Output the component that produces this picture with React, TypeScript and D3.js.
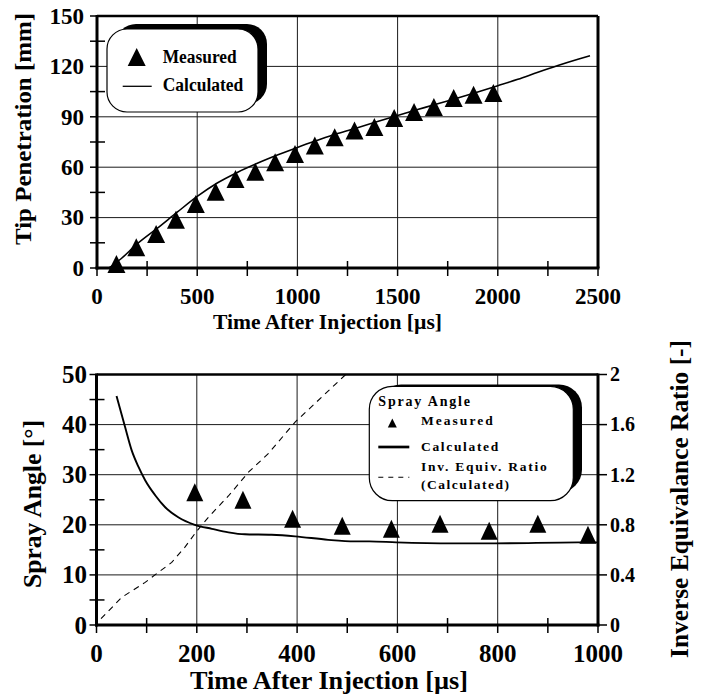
import React from 'react';
import * as d3 from 'd3';

const W = 703;
const H = 698;
const FONT = '"Liberation Serif", "Times New Roman", Times, serif';

// Upper panel: spray tip penetration vs time
const penTimeMeasured = [97, 196, 295, 394, 493, 592, 691, 790, 889, 988, 1087, 1186, 1285, 1384, 1483, 1582, 1681, 1780, 1879, 1978];
const penMeasured = [0.6, 10.5, 18.5, 27.0, 36.3, 43.6, 51.2, 55.5, 61.1, 66.1, 71.1, 76.1, 80.1, 82.1, 87.5, 91.1, 94.0, 99.4, 101.4, 102.4];
const penTimeCalc = [60, 120, 200, 300, 400, 500, 600, 700, 800, 900, 1000, 1100, 1200, 1300, 1400, 1500, 1600, 1700, 1800, 1900, 2000, 2100, 2200, 2300, 2400, 2460];
const penCalc = [0, 5.5, 14.3, 23.6, 33.2, 42.6, 50.6, 56.9, 62.3, 67.2, 71.8, 76, 80, 83.5, 87.2, 90.8, 94.3, 97.8, 101.2, 104.8, 108.5, 112.3, 116.5, 120.5, 124.2, 126.3];
const penXTicks = [0, 500, 1000, 1500, 2000, 2500];
const penXMinor = [250, 750, 1250, 1750, 2250];
const penYTicks = [0, 30, 60, 90, 120, 150];
const penYMinor = [15, 45, 75, 105, 135];

// Lower panel: spray angle and inverse equivalence ratio vs time
const angTimeMeasured = [196, 292, 391, 490, 588, 685, 783, 880, 980];
const angMeasured = [25.9, 24.4, 20.6, 19.2, 18.6, 19.6, 18.2, 19.6, 17.4];
const angTimeCalc = [40, 57, 70, 84, 97, 117, 137, 163, 196, 230, 263, 296, 349, 396, 462, 515, 544, 598, 710, 794, 960, 998];
const angCalc = [45.7, 39.5, 34.9, 31.5, 28.9, 25.9, 23.5, 21.5, 20, 19.2, 18.5, 18.1, 18, 17.7, 17, 16.7, 16.7, 16.5, 16.3, 16.3, 16.5, 16.5];
const ierTime = [9, 50, 97, 110, 150, 176, 200, 223, 263, 303, 343, 396, 436, 497];
const ierCalc = [0.05, 0.22, 0.34, 0.38, 0.5, 0.62, 0.75, 0.86, 1.03, 1.22, 1.37, 1.62, 1.77, 2.0];
const angXTicks = [0, 200, 400, 600, 800, 1000];
const angXMinor = [100, 300, 500, 700, 900];
const angYTicks = [0, 10, 20, 30, 40, 50];
const angYMinor = [5, 15, 25, 35, 45];
const ierTicks = [0, 0.4, 0.8, 1.2, 1.6, 2];

// triangle marker with its centroid on the data point
const triangle = (w: number, h: number) =>
  `M0,${(-2 * h) / 3}L${w / 2},${h / 3}L${-w / 2},${h / 3}Z`;

type Pt = [number, number];
const zip = (a: number[], b: number[]): Pt[] => a.map((v, i) => [v, b[i]]);

export default function App() {
  // scales
  const px = d3.scaleLinear().domain([0, 2500]).range([97, 598]);
  const py = d3.scaleLinear().domain([0, 150]).range([268, 16]);
  const ax = d3.scaleLinear().domain([0, 1000]).range([96.5, 598]);
  const ay = d3.scaleLinear().domain([0, 50]).range([625, 374.5]);
  const ry = d3.scaleLinear().domain([0, 2]).range([625, 374.5]);

  const penLine = d3.line<Pt>().x((d) => px(d[0])).y((d) => py(d[1])).curve(d3.curveMonotoneX);
  const angLine = d3.line<Pt>().x((d) => ax(d[0])).y((d) => ay(d[1])).curve(d3.curveMonotoneX);
  const ierLine = d3.line<Pt>().x((d) => ax(d[0])).y((d) => ry(d[1]));

  const gridStroke = '#1a1a1a';
  const marker = triangle(18, 18);

  return (
    <svg
      width={W}
      height={H}
      viewBox={`0 0 ${W} ${H}`}
      style={{ position: 'absolute', left: 0, top: 0, background: '#fff' }}
      fontFamily={FONT}
      fontWeight="bold"
    >
      <rect x={0} y={0} width={W} height={H} fill="#fff" />

      {/* ---------- Upper panel ---------- */}
      <g>
        {penYTicks.slice(1, -1).map((v) => (
          <line key={'pgy' + v} x1={px(0)} x2={px(2500)} y1={py(v)} y2={py(v)} stroke={gridStroke} strokeWidth={1} />
        ))}
        {penXTicks.slice(1, -1).map((v) => (
          <line key={'pgx' + v} x1={px(v)} x2={px(v)} y1={py(0)} y2={py(150)} stroke={gridStroke} strokeWidth={1} />
        ))}
        <path d={penLine(zip(penTimeCalc, penCalc)) || ''} fill="none" stroke="#000" strokeWidth={1.6} />

        {/* frame */}
        <line x1={px(0)} x2={px(2500)} y1={py(150)} y2={py(150)} stroke="#000" strokeWidth={2.5} />
        <line x1={px(2500)} x2={px(2500)} y1={py(150)} y2={py(0)} stroke="#000" strokeWidth={3} />
        <line x1={px(0)} x2={px(0)} y1={py(150) - 1} y2={py(0) + 1.5} stroke="#000" strokeWidth={3} />
        <line x1={px(0) - 1.5} x2={px(2500) + 1.5} y1={py(0)} y2={py(0)} stroke="#000" strokeWidth={3} />

        {/* ticks */}
        {penYTicks.map((v) => (
          <line key={'pty' + v} x1={px(0) - 7} x2={px(0)} y1={py(v)} y2={py(v)} stroke="#000" strokeWidth={1.5} />
        ))}
        {penYMinor.map((v) => (
          <line key={'ptym' + v} x1={px(0) - 7} x2={px(0) + 8} y1={py(v)} y2={py(v)} stroke="#000" strokeWidth={1.5} />
        ))}
        {penXTicks.map((v) => (
          <line key={'ptx' + v} x1={px(v)} x2={px(v)} y1={py(0)} y2={py(0) + 8} stroke="#000" strokeWidth={1.5} />
        ))}
        {penXMinor.map((v) => (
          <line key={'ptxm' + v} x1={px(v)} x2={px(v)} y1={py(0) - 7} y2={py(0) + 8} stroke="#000" strokeWidth={1.5} />
        ))}

        {/* tick labels */}
        {penYTicks.map((v) => (
          <text key={'ply' + v} x={84} y={py(v)} dy="0.34em" textAnchor="end" fontSize={23}>
            {v}
          </text>
        ))}
        {penXTicks.map((v) => (
          <text key={'plx' + v} x={px(v)} y={304} textAnchor="middle" fontSize={23}>
            {v}
          </text>
        ))}

        {/* titles */}
        <text x={327.5} y={328.5} textAnchor="middle" fontSize={21.5} textLength={229} lengthAdjust="spacingAndGlyphs">
          Time After Injection [µs]
        </text>
        <text transform="translate(31,129) rotate(-90)" textAnchor="middle" fontSize={24} textLength={232} lengthAdjust="spacingAndGlyphs">
          Tip Penetration [mm]
        </text>

        {/* measured points */}
        {zip(penTimeMeasured, penMeasured).map((d, i) => (
          <path key={'pm' + i} d={marker} transform={`translate(${px(d[0])},${py(d[1])})`} fill="#000" />
        ))}

        {/* legend */}
        <rect x={116} y={24} width={151} height={80} rx={20} ry={20} fill="#000" />
        <rect x={107} y={29} width={151} height={83} rx={20} ry={20} fill="#fff" stroke="#000" strokeWidth={1.2} />
        <path d={marker} transform="translate(136.7,60)" fill="#000" />
        <text x={162.7} y={63} fontSize={18} textLength={74} lengthAdjust="spacingAndGlyphs">
          Measured
        </text>
        <line x1={122.7} x2={151.7} y1={86.3} y2={86.3} stroke="#000" strokeWidth={1.3} />
        <text x={162.7} y={90.7} fontSize={18} textLength={80.6} lengthAdjust="spacingAndGlyphs">
          Calculated
        </text>
      </g>

      {/* ---------- Lower panel ---------- */}
      <g>
        {angYTicks.slice(1, -1).map((v) => (
          <line key={'agy' + v} x1={ax(0)} x2={ax(1000)} y1={ay(v)} y2={ay(v)} stroke={gridStroke} strokeWidth={1} />
        ))}
        {angXTicks.slice(1, -1).map((v) => (
          <line key={'agx' + v} x1={ax(v)} x2={ax(v)} y1={ay(0)} y2={ay(50)} stroke={gridStroke} strokeWidth={1} />
        ))}
        <path d={ierLine(zip(ierTime, ierCalc)) || ''} fill="none" stroke="#000" strokeWidth={1.1} strokeDasharray="6,5" />
        <path d={angLine(zip(angTimeCalc, angCalc)) || ''} fill="none" stroke="#000" strokeWidth={1.9} />

        {/* frame */}
        <line x1={ax(0)} x2={ax(1000)} y1={ay(50)} y2={ay(50)} stroke="#000" strokeWidth={2.5} />
        <line x1={ax(1000)} x2={ax(1000)} y1={ay(50) - 1} y2={ay(0) + 1.5} stroke="#000" strokeWidth={3} />
        <line x1={ax(0)} x2={ax(0)} y1={ay(50) - 1} y2={ay(0) + 1.5} stroke="#000" strokeWidth={3} />
        <line x1={ax(0) - 1.5} x2={ax(1000) + 1.5} y1={ay(0)} y2={ay(0)} stroke="#000" strokeWidth={3} />

        {/* ticks */}
        {angYTicks.map((v) => (
          <line key={'aty' + v} x1={ax(0) - 7} x2={ax(0)} y1={ay(v)} y2={ay(v)} stroke="#000" strokeWidth={1.5} />
        ))}
        {angYMinor.map((v) => (
          <line key={'atym' + v} x1={ax(0) - 7} x2={ax(0) + 8} y1={ay(v)} y2={ay(v)} stroke="#000" strokeWidth={1.5} />
        ))}
        {angXTicks.map((v) => (
          <line key={'atx' + v} x1={ax(v)} x2={ax(v)} y1={ay(0)} y2={ay(0) + 8} stroke="#000" strokeWidth={1.5} />
        ))}
        {angXMinor.map((v) => (
          <line key={'atxm' + v} x1={ax(v)} x2={ax(v)} y1={ay(0) - 7} y2={ay(0) + 8} stroke="#000" strokeWidth={1.5} />
        ))}
        {ierTicks.map((v) => (
          <line key={'rty' + v} x1={ax(1000)} x2={ax(1000) + 9} y1={ry(v)} y2={ry(v)} stroke="#000" strokeWidth={1.5} />
        ))}

        {/* tick labels */}
        {angYTicks.map((v) => (
          <text key={'aly' + v} x={87} y={ay(v)} dy="0.34em" textAnchor="end" fontSize={25}>
            {v}
          </text>
        ))}
        {angXTicks.map((v) => (
          <text key={'alx' + v} x={ax(v)} y={662} textAnchor="middle" fontSize={25}>
            {v}
          </text>
        ))}
        {ierTicks.map((v) => (
          <text key={'rly' + v} x={610} y={ry(v)} dy="0.34em" textAnchor="start" fontSize={20}>
            {String(v)}
          </text>
        ))}

        {/* titles */}
        <text x={329} y={688.5} textAnchor="middle" fontSize={26} textLength={278} lengthAdjust="spacingAndGlyphs">
          Time After Injection [µs]
        </text>
        <text transform="translate(40.5,504) rotate(-90)" textAnchor="middle" fontSize={26} textLength={168} lengthAdjust="spacingAndGlyphs">
          Spray Angle [°]
        </text>
        <text transform="translate(688,499) rotate(-90)" textAnchor="middle" fontSize={25} textLength={318} lengthAdjust="spacingAndGlyphs">
          Inverse Equivalance Ratio [-]
        </text>

        {/* measured points */}
        {zip(angTimeMeasured, angMeasured).map((d, i) => (
          <path key={'am' + i} d={triangle(17, 18)} transform={`translate(${ax(d[0])},${ay(d[1])})`} fill="#000" />
        ))}

        {/* legend */}
        <rect x={378} y={384.5} width={204} height={108} rx={23} ry={23} fill="#000" />
        <rect x={369.3} y={386.3} width={204} height={114.4} rx={23} ry={23} fill="#fff" stroke="#000" strokeWidth={1.2} />
        <text x={378.3} y={406.3} fontSize={14} textLength={91.7} lengthAdjust="spacing">
          Spray Angle
        </text>
        <path d={triangle(9, 9)} transform="translate(392.3,424.5)" fill="#000" />
        <text x={421} y={424.7} fontSize={13.5} textLength={71.7} lengthAdjust="spacing">
          Measured
        </text>
        <line x1={378.3} x2={409.3} y1={447} y2={447} stroke="#000" strokeWidth={2.7} />
        <text x={421} y={450.7} fontSize={13.5} textLength={77.3} lengthAdjust="spacing">
          Calculated
        </text>
        <line x1={378.3} x2={409.3} y1={477.3} y2={477.3} stroke="#000" strokeWidth={1.1} strokeDasharray="5,5" />
        <text x={421} y={471.3} fontSize={13.5} textLength={125.7} lengthAdjust="spacing">
          Inv. Equiv. Ratio
        </text>
        <text x={421} y={489} fontSize={13.5} textLength={88} lengthAdjust="spacing">
          (Calculated)
        </text>
      </g>
    </svg>
  );
}
